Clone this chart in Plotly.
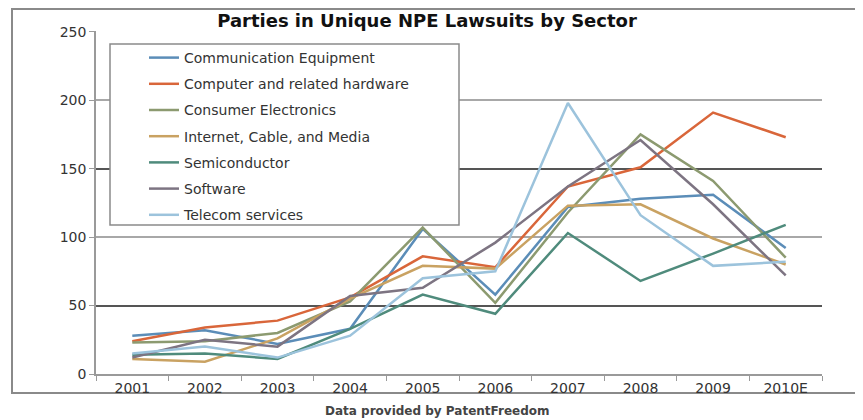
import plotly.graph_objects as go

years = ["2001", "2002", "2003", "2004", "2005", "2006", "2007", "2008", "2009", "2010E"]

comm_equipment = [28, 32, 22, 33, 106, 58, 122, 128, 131, 92]
computer_hardware = [24, 34, 39, 56, 86, 78, 137, 151, 191, 173]
consumer_electronics = [23, 24, 30, 53, 107, 52, 118, 175, 141, 85]
internet_media = [11, 9, 26, 55, 79, 77, 123, 124, 99, 80]
semiconductor = [14, 15, 11, 33, 58, 44, 103, 68, 88, 109]
software = [12, 25, 20, 57, 63, 96, 137, 171, 124, 72]
telecom = [15, 20, 12, 28, 70, 75, 198, 116, 79, 82]

series = [
    ("Communication Equipment", comm_equipment, "#5b8db8"),
    ("Computer and related hardware", computer_hardware, "#d9663a"),
    ("Consumer Electronics", consumer_electronics, "#8c9a70"),
    ("Internet, Cable, and Media", internet_media, "#c9a262"),
    ("Semiconductor", semiconductor, "#4f8b7c"),
    ("Software", software, "#7d7482"),
    ("Telecom services", telecom, "#9cc3dc"),
]

FONT = "DejaVu Sans, Liberation Sans, Arial, sans-serif"

fig = go.Figure()
for i, (name, vals, color) in enumerate(series):
    fig.add_trace(go.Scatter(
        x=years, y=vals, name=name, mode="lines",
        line=dict(color=color, width=2.5),
        legendgroup=f"g{i}",
    ))
# empty helper trace so the overlay axis (darker alternating grid) is drawn
fig.add_trace(go.Scatter(x=[], y=[], yaxis="y2", showlegend=False, hoverinfo="skip"))

# page offset (browser body margin)
OFF = 8
W, H = 863, 420
# plot area in page pixels: x 96..822, y 31..374
L = 96 - OFF
T = 31 - OFF
R = W - (822 - OFF)
B = H - (374 - OFF)
pw, ph = W - L - R, H - T - B

def px_x(p):
    return (p - OFF - L) / pw

def px_y(p):
    return (H - B - (p - OFF)) / ph

YR = [0, 250.6]

fig.update_layout(
    width=W, height=H,
    margin=dict(l=L, r=R, t=T, b=B),
    paper_bgcolor="white", plot_bgcolor="white",
    font=dict(family=FONT, size=14, color="#333333"),
    title=dict(text="<b>Parties in Unique NPE Lawsuits by Sector</b>",
               x=(427 - OFF) / W, xanchor="center", xref="container",
               y=1 - (21 - OFF) / H, yanchor="middle", yref="container",
               font=dict(family=FONT, size=18, color="#111111")),
    showlegend=True,
    legend=dict(
        x=px_x(144), y=px_y(42), xanchor="left", yanchor="top",
        borderwidth=0, bgcolor="rgba(0,0,0,0)",
        font=dict(family=FONT, size=14, color="#333333"),
        tracegroupgap=5, itemwidth=30,
    ),
    xaxis=dict(
        type="category", range=[-0.5, 9.5],
        showgrid=False, showline=True, linecolor="#9a9a9a", linewidth=1.5,
        ticks="outside", tickson="boundaries", ticklen=5, tickcolor="#9a9a9a",
        tickfont=dict(family=FONT, size=14, color="#333333"),
        fixedrange=True,
    ),
    yaxis=dict(
        range=YR, dtick=50, tick0=0,
        showgrid=True, gridcolor="#a8a8a8", gridwidth=2,
        showline=True, linecolor="#9a9a9a", linewidth=1.5,
        ticks="outside", ticklen=5, tickcolor="#9a9a9a",
        tickfont=dict(family=FONT, size=14, color="#333333"),
        zeroline=False, fixedrange=True,
    ),
    yaxis2=dict(
        range=YR, overlaying="y", side="left", anchor="x",
        tick0=50, dtick=100,
        showgrid=True, gridcolor="#555555", gridwidth=2,
        showticklabels=False, ticks="", showline=False, zeroline=False,
        fixedrange=True,
    ),
    shapes=[
        dict(type="rect", xref="paper", yref="paper",
             x0=px_x(12), x1=px_x(880), y0=px_y(393), y1=px_y(9),
             line=dict(color="#8a8a8a", width=2), layer="below"),
        dict(type="rect", xref="paper", yref="paper",
             x0=px_x(110), x1=px_x(459), y0=px_y(225), y1=px_y(44),
             line=dict(color="#8a8a8a", width=1.5), fillcolor="white", layer="above"),
    ],
    annotations=[
        dict(text="<b>Data provided by PatentFreedom</b>", xref="paper", yref="paper",
             x=px_x(437), y=px_y(411), xanchor="center", yanchor="middle",
             showarrow=False, font=dict(family=FONT, size=12, color="#444444")),
    ],
)

fig.write_html("out.html")
